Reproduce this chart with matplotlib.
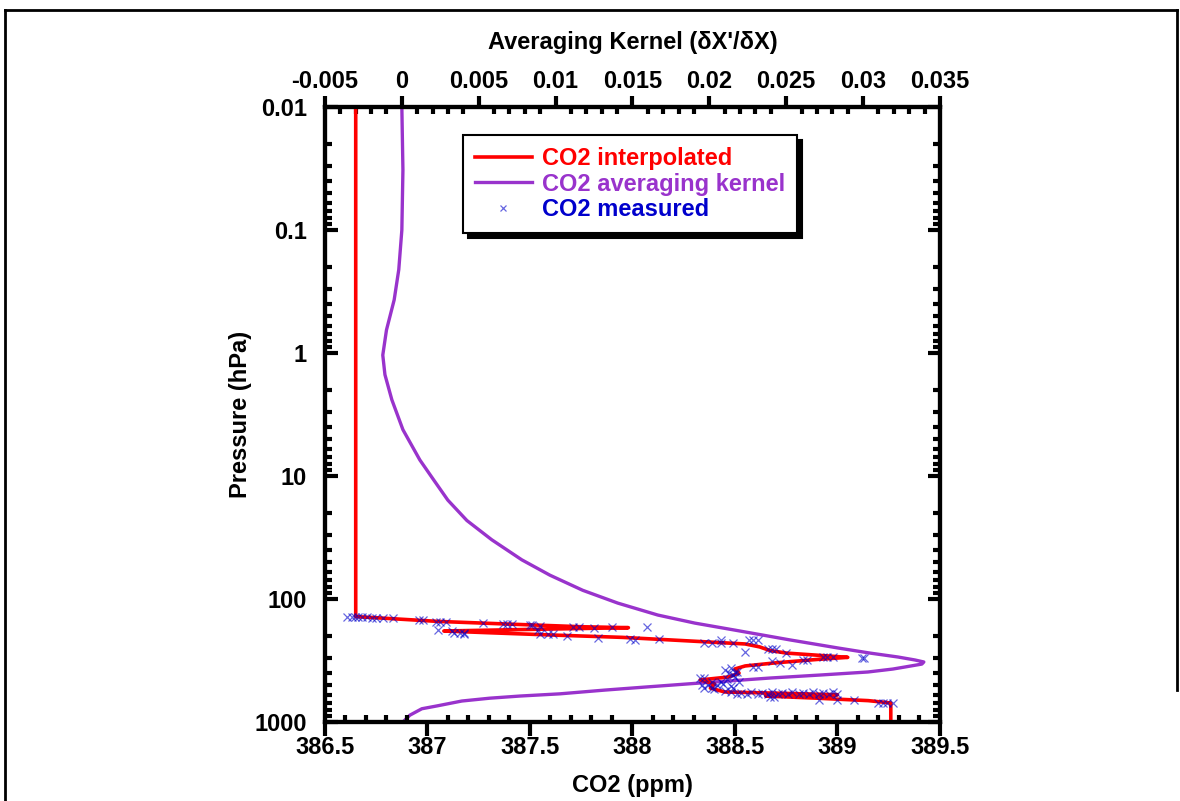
import numpy as np
import matplotlib
matplotlib.use('Agg')
import matplotlib.pyplot as plt
from matplotlib.lines import Line2D
from matplotlib.ticker import FixedLocator, MultipleLocator, LogLocator, NullFormatter

plt.rcParams['font.family'] = ['Liberation Sans', 'DejaVu Sans']
plt.rcParams['font.weight'] = 'bold'
plt.rcParams['font.size'] = 17

# CO2 interpolated profile (ppm vs hPa)
red_p = [0.01, 139, 142, 152, 160, 168, 171, 176, 182, 188, 196, 205, 218, 232, 245,
         262, 275, 290, 298, 310, 330, 350, 370, 400, 430, 455, 490, 530, 570, 585,
         600, 615, 640, 670, 700, 1000]
red_co2 = [386.65, 386.65, 386.75, 387.05, 387.40, 387.75, 387.98, 387.55, 387.08, 387.30,
           387.60, 387.95, 388.25, 388.55, 388.62, 388.67, 388.75, 388.95, 389.05, 388.90,
           388.70, 388.55, 388.50, 388.52, 388.47, 388.33, 388.40, 388.38, 388.45, 388.75,
           389.00, 388.65, 388.90, 389.15, 389.26, 389.26]

# CO2 averaging kernel
ak_p = [0.01, 0.0325, 0.1, 0.21, 0.37, 0.65, 1.04, 1.5, 2.4, 4.2, 7.4, 10.8, 15.7, 23, 33,
        48, 64, 85, 108, 135, 157, 179, 215, 250, 275, 296, 313, 325, 338, 357, 371, 392,
        415, 439, 482, 520, 550, 590, 615, 640, 675, 740, 780, 880, 1000]
ak_val = [0.0, 0.00007, 0.0, -0.0002, -0.0005, -0.001, -0.00124, -0.0011, -0.00065, 0.00007,
          0.00117, 0.00208, 0.00299, 0.00423, 0.00585, 0.0078, 0.00963, 0.01177, 0.01405,
          0.01665, 0.01906, 0.02166, 0.02524, 0.02836, 0.03044, 0.03226, 0.03337, 0.03395,
          0.03382, 0.03272, 0.03193, 0.03031, 0.02719, 0.02393, 0.01938, 0.0158, 0.0132,
          0.01028, 0.00767, 0.00572, 0.0039, 0.00228, 0.0013, 0.00052, 0.00007]

# CO2 measured
meas_co2 = [386.607, 386.632, 386.646, 386.661, 386.680, 386.705, 386.729, 386.749, 386.783, 386.832,
            386.96, 386.98, 387.04, 387.06, 387.09, 387.27, 387.37, 387.39, 387.41, 387.50,
            387.51, 387.55, 387.71, 387.74, 387.81, 387.90, 388.07,
            387.05, 387.12, 387.13, 387.16, 387.18, 387.18, 387.55, 387.59, 387.61, 387.54,
            387.68, 387.83, 388.01, 387.99, 388.13, 388.35, 388.39, 388.43, 388.49, 388.43,
            388.57, 388.59, 388.61, 388.55, 388.66, 388.68, 388.70, 388.75, 388.68, 388.72,
            388.78, 388.83, 388.85, 388.93, 388.95, 388.98, 389.12, 389.13, 388.59, 388.61,
            388.48, 388.50, 388.51, 388.49, 388.33, 388.35, 388.43, 388.39, 388.34, 388.37,
            388.41, 388.35, 388.39, 388.49, 388.45, 388.47, 388.50, 388.46, 388.52, 388.44,
            388.48, 388.40, 388.45,
            388.48, 388.51, 388.53, 388.56, 388.58, 388.61, 388.63, 388.66, 388.68, 388.71,
            388.73, 388.76, 388.78, 388.81, 388.83, 388.86, 388.88, 388.91, 388.93, 388.96,
            388.98, 389.00, 388.67, 388.69, 388.91, 389.00, 389.08, 389.20, 389.22, 389.24,
            389.27]
meas_p = [139, 140, 140, 141, 141, 141, 142, 142, 143, 144,
          148, 148, 154, 154, 154, 157, 160, 160, 160, 163,
          163, 166, 169, 169, 172, 169, 169,
          180, 182, 189, 189, 189, 193, 193, 193, 193, 178,
          200, 208, 216, 212, 212, 228, 228, 228, 228, 216,
          216, 216, 216, 270, 255, 255, 255, 275, 319, 331,
          344, 313, 313, 296, 296, 296, 302, 302, 357, 357,
          364, 392, 392, 415, 439, 439, 473, 473, 501, 501,
          501, 530, 530, 530, 380, 400, 430, 450, 470, 490,
          510, 540, 560,
          575, 595, 580, 590, 575, 595, 580, 590, 575, 595,
          580, 590, 575, 595, 580, 590, 575, 595, 580, 590,
          575, 595, 626, 626, 663, 663, 663, 702, 702, 702,
          702]

y_ticks = [0.01, 0.1, 1, 10, 100, 1000]
y_labels = ['0.01', '0.1', '1', '10', '100', '1000']
x_ticks = [386.5, 387, 387.5, 388, 388.5, 389, 389.5]
x_labels = ['386.5', '387', '387.5', '388', '388.5', '389', '389.5']
top_ticks = [-0.005, 0, 0.005, 0.01, 0.015, 0.02, 0.025, 0.03, 0.035]
top_labels = ['-0.005', '0', '0.005', '0.01', '0.015', '0.02', '0.025', '0.03', '0.035']

red = '#FF0000'
purple = '#9933CC'
blue = '#0000CC'

fig = plt.figure(figsize=(11.8, 8.01), dpi=100)
ax = fig.add_axes([0.2754, 0.0986, 0.5212, 0.7678])
ax2 = ax.twiny()
# purple kernel sits behind the red profile
ax2.set_zorder(ax.get_zorder() - 1)
ax.patch.set_visible(False)

ax2.plot(ak_val, ak_p, color=purple, lw=2.4, solid_joinstyle='round')
ax.plot(red_co2, red_p, color=red, lw=2.6)
ax.plot(meas_co2, meas_p, ls='none', marker='x', ms=6, mew=0.9, color=blue, alpha=0.6)

ax.set_yscale('log')
ax.set_ylim(1000, 0.01)
ax.set_xlim(386.5, 389.5)
ax2.set_xlim(-0.005, 0.035)

ax.yaxis.set_major_locator(FixedLocator(y_ticks))
ax.set_yticklabels(y_labels)
ax.yaxis.set_minor_locator(LogLocator(base=10, subs=np.arange(2, 10)))
ax.yaxis.set_minor_formatter(NullFormatter())
ax.set_xticks(x_ticks)
ax.set_xticklabels(x_labels)
ax.xaxis.set_minor_locator(MultipleLocator(0.1))
ax2.set_xticks(top_ticks)
ax2.set_xticklabels(top_labels)
ax2.xaxis.set_minor_locator(MultipleLocator(0.001))

for a in (ax, ax2):
    for s in a.spines.values():
        s.set_linewidth(3)

ax.tick_params(axis='x', which='major', direction='out', length=10, width=3, pad=0, top=False)
ax.tick_params(axis='x', which='minor', direction='in', length=5, width=3, top=False)
ax.tick_params(axis='y', which='major', direction='in', length=9, width=3, pad=13,
               left=True, right=True)
ax.tick_params(axis='y', which='minor', direction='in', length=5, width=3, left=True, right=True)
ax2.tick_params(axis='x', which='major', direction='out', length=8, width=3, pad=2)
ax2.tick_params(axis='x', which='minor', direction='in', length=5, width=3)

ax.set_xlabel('CO2 (ppm)', fontweight='bold', labelpad=11)
ax.set_ylabel('Pressure (hPa)', fontweight='bold', labelpad=2)
ax2.set_xlabel("Averaging Kernel (\u03b4X'/\u03b4X)", fontweight='bold', labelpad=15)

handles = [Line2D([], [], color=red, lw=2.6),
           Line2D([], [], color=purple, lw=2.4),
           Line2D([], [], ls='none', marker='x', ms=5, mew=0.9, color=blue, alpha=0.6)]
leg = ax.legend(handles, ['CO2 interpolated', 'CO2 averaging kernel', 'CO2 measured'],
                loc='upper left', bbox_to_anchor=(0.224, 0.9545), borderaxespad=0,
                fancybox=False, framealpha=1, edgecolor='black', handlelength=2.45,
                handletextpad=0.4, labelspacing=0.12, borderpad=0.5,
                labelcolor=[red, purple, blue],
                shadow={'ox': 3.6, 'oy': -3.6, 'color': 'black', 'alpha': 1})
leg.get_frame().set_linewidth(1.5)

# outer page frame
fig.add_artist(Line2D([5 / 1180, 5 / 1180], [0, 1 - 10 / 801], color='black', lw=2))
fig.add_artist(Line2D([5 / 1180, 1177 / 1180], [1 - 10 / 801, 1 - 10 / 801], color='black', lw=2))
fig.add_artist(Line2D([1177 / 1180, 1177 / 1180], [1 - 10 / 801, 1 - 690 / 801], color='black', lw=2))

fig.savefig('out.png', dpi=100)
